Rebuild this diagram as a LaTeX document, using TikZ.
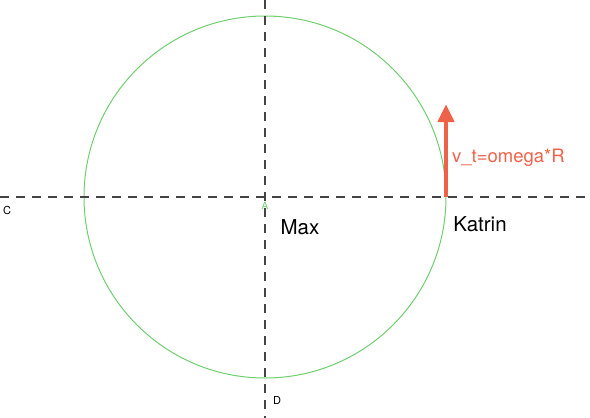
\documentclass[tikz,border=0pt]{standalone}
\usepackage{fontspec}
\setmainfont{TeX Gyre Heros}
\usetikzlibrary{arrows.meta}
\definecolor{ringgreen}{RGB}{112,206,112}
\definecolor{speedred}{RGB}{238,98,74}
\definecolor{axisgray}{RGB}{68,68,68}
\tikzset{
	axis/.style={draw=axisgray, line width=1.4pt, dash pattern=on 9pt off 7pt},
	lbl/.style={inner sep=0pt, font=\fontsize{20.5}{22}\selectfont},
	tiny/.style={inner sep=0pt, font=\fontsize{11}{12}\selectfont}
}
\begin{document}
\begin{tikzpicture}[x=1pt, y=-1pt]
		\useasboundingbox (0, 0) rectangle (590, 418);
		\coordinate (O) at (265, 197);
		\coordinate (K) at (446, 197);
		\coordinate (Ktop) at (446, 104);
		\draw[ringgreen, line width=1pt] (O) circle (181);
		\draw[axis] (0, 197) -- (590, 197);
		\draw[axis] (265, 0) -- (265, 418);
		\node[tiny] (c) at (7, 210) {C};
		\node[tiny] (d) at (277, 400) {D};
		\node[tiny, ringgreen, font=\fontsize{10}{11}\selectfont] (a) at (265, 206) {A};
		\node[lbl] (max) at (300, 227) {Max};
		\node[lbl] (katrin) at (480, 224) {Katrin};
		\draw[speedred, line width=4.5pt, -{Triangle[length=18pt, width=16pt]}] (K) -- (Ktop);
		\node[lbl, speedred, anchor=west, font=\fontsize{18.5}{20}\selectfont] (vt) at (452, 158) {v\_t=omega*R};
	\end{tikzpicture}
\end{document}
